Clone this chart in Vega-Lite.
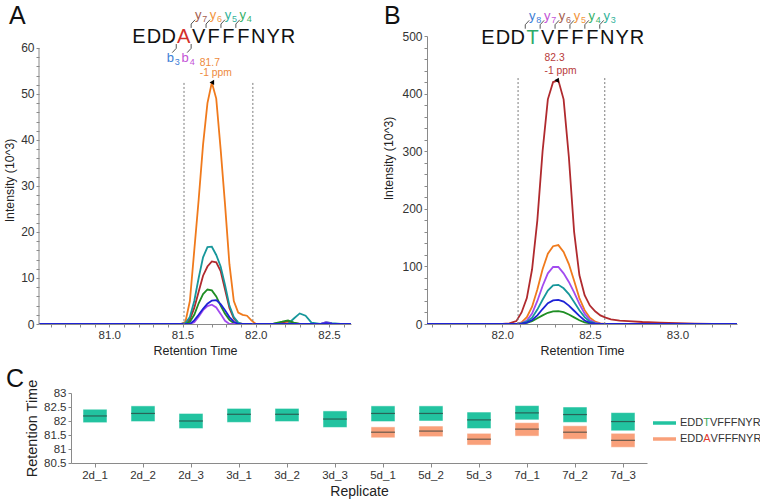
{
 "$schema": "https://vega.github.io/schema/vega-lite/v6.json",
 "padding": {"left": 3, "top": 4, "right": 0, "bottom": 0},
 "config": {
  "view": {"stroke": null},
  "font": "Liberation Sans",
  "axis": {"labelFont": "Liberation Sans", "titleFont": "Liberation Sans", "labelColor": "#333", "titleColor": "#222", "titleFontWeight": "normal", "domainColor": "#8a8a8a", "tickColor": "#8a8a8a", "grid": false, "labelFontSize": 11.5, "tickSize": 3, "labelPadding": 2, "labelOverlap": false},
  "text": {"font": "Liberation Sans"}
 },
 "datasets": {
  "tracesA": [
   {"t":80.52,"y7":0,"y6":0,"y5":0,"y4":0,"b3":0,"b4":0},
   {"t":81.0,"y7":0,"y6":0,"y5":0,"y4":0,"b3":0,"b4":0},
   {"t":81.3,"y7":0,"y6":0,"y5":0,"y4":0,"b3":0,"b4":0},
   {"t":81.49,"y7":0,"y6":0,"y5":0,"y4":0,"b3":0,"b4":0},
   {"t":81.52,"y7":0,"y6":0.5,"y5":0.2,"y4":0,"b3":0,"b4":0},
   {"t":81.55,"y7":1,"y6":5,"y5":1.5,"y4":0.5,"b3":0,"b4":0},
   {"t":81.58,"y7":3.5,"y6":16,"y5":5,"y4":2,"b3":0.8,"b4":0.4},
   {"t":81.61,"y7":7,"y6":27,"y5":10,"y4":4.5,"b3":2,"b4":1.6},
   {"t":81.64,"y7":10.5,"y6":39,"y5":14.5,"y4":6.5,"b3":3.3,"b4":3},
   {"t":81.67,"y7":12.5,"y6":48,"y5":16.7,"y4":7.5,"b3":4.4,"b4":3.9},
   {"t":81.70,"y7":13.6,"y6":52.5,"y5":16.8,"y4":7.3,"b3":5.1,"b4":4.2},
   {"t":81.73,"y7":13.4,"y6":49,"y5":15,"y4":6,"b3":5.2,"b4":3.6},
   {"t":81.76,"y7":11.5,"y6":38,"y5":12.5,"y4":4,"b3":4.3,"b4":2.2},
   {"t":81.79,"y7":7.5,"y6":26,"y5":8.5,"y4":2.2,"b3":3,"b4":0.7},
   {"t":81.82,"y7":3.5,"y6":13,"y5":4,"y4":0.9,"b3":1.5,"b4":0},
   {"t":81.85,"y7":1.2,"y6":5,"y5":1.5,"y4":0.2,"b3":0.5,"b4":0},
   {"t":81.88,"y7":0.2,"y6":2.5,"y5":0.3,"y4":0,"b3":0,"b4":0},
   {"t":81.91,"y7":0,"y6":2,"y5":0,"y4":0,"b3":0,"b4":0},
   {"t":81.94,"y7":0,"y6":1.8,"y5":0,"y4":0,"b3":0,"b4":0},
   {"t":81.97,"y7":0,"y6":0.8,"y5":0,"y4":0,"b3":0,"b4":0},
   {"t":82.0,"y7":0,"y6":0,"y5":0,"y4":0,"b3":0,"b4":0},
   {"t":82.06,"y7":0,"y6":0,"y5":0,"y4":0,"b3":0,"b4":0},
   {"t":82.12,"y7":0,"y6":0,"y5":0,"y4":0.1,"b3":0,"b4":0},
   {"t":82.18,"y7":0.3,"y6":0,"y5":0,"y4":0.5,"b3":0,"b4":0},
   {"t":82.22,"y7":0.6,"y6":0.2,"y5":0,"y4":0.8,"b3":0,"b4":0},
   {"t":82.26,"y7":0.2,"y6":0,"y5":1.2,"y4":0.3,"b3":0,"b4":0},
   {"t":82.30,"y7":0,"y6":0,"y5":2.3,"y4":0,"b3":0,"b4":0},
   {"t":82.34,"y7":0,"y6":0,"y5":1.8,"y4":0,"b3":0,"b4":0},
   {"t":82.38,"y7":0,"y6":0,"y5":0.3,"y4":0,"b3":0,"b4":0},
   {"t":82.44,"y7":0,"y6":0,"y5":0,"y4":0,"b3":0,"b4":0},
   {"t":82.48,"y7":0,"y6":0,"y5":0.4,"y4":0,"b3":0.2,"b4":0.4},
   {"t":82.52,"y7":0,"y6":0,"y5":0.2,"y4":0,"b3":0.1,"b4":0.1},
   {"t":82.58,"y7":0,"y6":0,"y5":0,"y4":0,"b3":0,"b4":0},
   {"t":82.65,"y7":0,"y6":0,"y5":0,"y4":0,"b3":0,"b4":0}
  ],
  "tracesB": [
   {"t":81.57,"y6":0,"y5":0,"y7":0,"y3":0,"y8":0,"y4":0},
   {"t":81.8,"y6":0,"y5":0,"y7":0,"y3":0,"y8":0,"y4":0},
   {"t":82.0,"y6":0,"y5":0,"y7":0,"y3":0,"y8":0,"y4":0},
   {"t":82.04,"y6":1,"y5":0,"y7":0,"y3":0,"y8":0,"y4":0},
   {"t":82.08,"y6":5,"y5":0,"y7":0,"y3":0,"y8":0,"y4":0},
   {"t":82.11,"y6":20,"y5":3,"y7":1.5,"y3":1,"y8":0.5,"y4":0.5},
   {"t":82.14,"y6":45,"y5":12,"y7":6,"y3":4,"y8":2.5,"y4":2},
   {"t":82.17,"y6":95,"y5":30,"y7":18,"y3":11,"y8":7,"y4":5},
   {"t":82.20,"y6":180,"y5":60,"y7":40,"y3":25,"y8":15,"y4":10},
   {"t":82.23,"y6":300,"y5":95,"y7":66,"y3":42,"y8":26,"y4":15},
   {"t":82.26,"y6":390,"y5":122,"y7":88,"y3":58,"y8":36,"y4":19.5},
   {"t":82.29,"y6":420,"y5":135,"y7":99,"y3":67,"y8":41,"y4":22},
   {"t":82.32,"y6":423,"y5":137,"y7":99,"y3":68,"y8":42,"y4":22.5},
   {"t":82.35,"y6":390,"y5":125,"y7":88,"y3":62,"y8":39,"y4":20.5},
   {"t":82.38,"y6":290,"y5":104,"y7":73,"y3":52,"y8":32,"y4":16.5},
   {"t":82.41,"y6":160,"y5":75,"y7":55,"y3":38,"y8":23,"y4":11.5},
   {"t":82.44,"y6":85,"y5":45,"y7":35,"y3":24,"y8":14,"y4":6.5},
   {"t":82.47,"y6":50,"y5":24,"y7":18,"y3":12,"y8":6,"y4":3},
   {"t":82.50,"y6":32,"y5":11,"y7":7,"y3":4,"y8":2,"y4":1},
   {"t":82.53,"y6":22,"y5":4,"y7":2,"y3":1,"y8":0.5,"y4":0.3},
   {"t":82.56,"y6":15,"y5":1,"y7":0.5,"y3":0,"y8":0,"y4":0},
   {"t":82.59,"y6":11,"y5":0,"y7":0,"y3":0,"y8":0,"y4":0},
   {"t":82.62,"y6":8,"y5":0,"y7":0,"y3":0,"y8":0,"y4":0},
   {"t":82.67,"y6":6,"y5":0,"y7":0,"y3":0,"y8":0,"y4":0},
   {"t":82.72,"y6":5,"y5":0,"y7":0,"y3":0,"y8":0,"y4":0},
   {"t":82.80,"y6":3.5,"y5":0,"y7":0,"y3":0,"y8":0,"y4":0},
   {"t":82.90,"y6":2.5,"y5":0,"y7":0,"y3":0,"y8":0,"y4":0},
   {"t":83.0,"y6":1.5,"y5":0,"y7":0,"y3":0,"y8":0,"y4":0},
   {"t":83.1,"y6":0.5,"y5":0,"y7":0,"y3":0,"y8":0,"y4":0},
   {"t":83.2,"y6":0,"y5":0,"y7":0,"y3":0,"y8":0,"y4":0},
   {"t":83.34,"y6":0,"y5":0,"y7":0,"y3":0,"y8":0,"y4":0}
  ],
  "boundsA": [{"t":81.51,"top":52.4},{"t":81.98,"top":52.4}],
  "boundsB": [{"t":82.09,"top":427},{"t":82.585,"top":427}],
  "peakA": [{"t":81.70,"inten":52.5,"rt":"81.7","ppm":"-1 ppm"}],
  "peakB": [{"t":82.31,"inten":423,"rt":"82.3","ppm":"-1 ppm"}],
  "seqA": [
   {"pos":0,"aa":"E","mut":false},{"pos":1,"aa":"D","mut":false},{"pos":2,"aa":"D","mut":false},{"pos":3,"aa":"A","mut":true},
   {"pos":4,"aa":"V","mut":false},{"pos":5,"aa":"F","mut":false},{"pos":6,"aa":"F","mut":false},{"pos":7,"aa":"F","mut":false},
   {"pos":8,"aa":"N","mut":false},{"pos":9,"aa":"Y","mut":false},{"pos":10,"aa":"R","mut":false}
  ],
  "seqB": [
   {"pos":0,"aa":"E","mut":false},{"pos":1,"aa":"D","mut":false},{"pos":2,"aa":"D","mut":false},{"pos":3,"aa":"T","mut":true},
   {"pos":4,"aa":"V","mut":false},{"pos":5,"aa":"F","mut":false},{"pos":6,"aa":"F","mut":false},{"pos":7,"aa":"F","mut":false},
   {"pos":8,"aa":"N","mut":false},{"pos":9,"aa":"Y","mut":false},{"pos":10,"aa":"R","mut":false}
  ],
  "ionsA": [
   {"name":"y7","ion":"y","num":"7","cut":3.5},{"name":"y6","ion":"y","num":"6","cut":4.5},
   {"name":"y5","ion":"y","num":"5","cut":5.5},{"name":"y4","ion":"y","num":"4","cut":6.5},
   {"name":"b3","ion":"b","num":"3","cut":2.5},{"name":"b4","ion":"b","num":"4","cut":3.5}
  ],
  "ionsB": [
   {"name":"y8","ion":"y","num":"8","cut":2.5},{"name":"y7","ion":"y","num":"7","cut":3.5},
   {"name":"y6","ion":"y","num":"6","cut":4.5},{"name":"y5","ion":"y","num":"5","cut":5.5},
   {"name":"y4","ion":"y","num":"4","cut":6.5},{"name":"y3","ion":"y","num":"3","cut":7.5}
  ],
  "boxes": [
   {"rep":"2d_1","pep":"EDDTVFFFNYR","lo":81.94,"hi":82.42,"mid":82.18},
   {"rep":"2d_2","pep":"EDDTVFFFNYR","lo":81.98,"hi":82.54,"mid":82.27},
   {"rep":"2d_3","pep":"EDDTVFFFNYR","lo":81.73,"hi":82.27,"mid":82.0},
   {"rep":"3d_1","pep":"EDDTVFFFNYR","lo":81.95,"hi":82.45,"mid":82.24},
   {"rep":"3d_2","pep":"EDDTVFFFNYR","lo":81.98,"hi":82.45,"mid":82.24},
   {"rep":"3d_3","pep":"EDDTVFFFNYR","lo":81.77,"hi":82.36,"mid":82.07},
   {"rep":"5d_1","pep":"EDDTVFFFNYR","lo":81.98,"hi":82.54,"mid":82.27},
   {"rep":"5d_2","pep":"EDDTVFFFNYR","lo":82.0,"hi":82.54,"mid":82.27},
   {"rep":"5d_3","pep":"EDDTVFFFNYR","lo":81.73,"hi":82.32,"mid":82.04},
   {"rep":"7d_1","pep":"EDDTVFFFNYR","lo":82.04,"hi":82.55,"mid":82.29},
   {"rep":"7d_2","pep":"EDDTVFFFNYR","lo":81.95,"hi":82.5,"mid":82.23},
   {"rep":"7d_3","pep":"EDDTVFFFNYR","lo":81.65,"hi":82.3,"mid":81.98},
   {"rep":"5d_1","pep":"EDDAVFFFNYR","lo":81.4,"hi":81.79,"mid":81.6},
   {"rep":"5d_2","pep":"EDDAVFFFNYR","lo":81.44,"hi":81.82,"mid":81.64},
   {"rep":"5d_3","pep":"EDDAVFFFNYR","lo":81.14,"hi":81.56,"mid":81.35},
   {"rep":"7d_1","pep":"EDDAVFFFNYR","lo":81.46,"hi":81.94,"mid":81.71},
   {"rep":"7d_2","pep":"EDDAVFFFNYR","lo":81.35,"hi":81.83,"mid":81.6},
   {"rep":"7d_3","pep":"EDDAVFFFNYR","lo":81.06,"hi":81.56,"mid":81.31}
  ],
  "legendRows": [
   {"kind":"TV","pre":"EDD","mut":"T","post":"VFFFNYR"},
   {"kind":"AV","pre":"EDD","mut":"A","post":"VFFFNYR"}
  ]
 },
 "spacing": 10,
 "vconcat": [
  {
   "spacing": 31,
   "hconcat": [
    {
     "width": 312, "height": 288,
     "title": {"text": "A", "anchor": "start", "frame": "group", "dx": -30, "dy": 40, "offset": 0, "baseline": "alphabetic", "fontSize": 25, "fontWeight": "normal", "font": "Liberation Sans", "color": "#111"},
     "resolve": {"scale": {"x": "independent", "y": "independent", "color": "independent"}},
     "layer": [
      {
       "layer": [
        {
         "data": {"name": "tracesA"},
         "transform": [{"fold": ["y6", "y7", "y5", "y4", "b4", "b3"], "as": ["ion", "inten"]}],
         "mark": {"type": "line", "strokeWidth": 1.8, "clip": true},
         "encoding": {
          "x": {"field": "t", "type": "quantitative", "scale": {"domain": [80.52, 82.65], "nice": false, "zero": false},
                "axis": {"title": "Retention Time", "titleFontSize": 12.5, "titlePadding": 4, "labelOverlap": false, "tickCount": 100, "values": [80.6,80.7,80.8,80.9,81.0,81.1,81.2,81.3,81.4,81.5,81.6,81.7,81.8,81.9,82.0,82.1,82.2,82.3,82.4,82.5,82.6], "labelExpr": "abs(datum.value*2 - round(datum.value*2)) < 0.01 ? format(datum.value, '.1f') : ''"}},
          "y": {"field": "inten", "type": "quantitative", "scale": {"domain": [0, 62.6], "nice": false},
                "axis": {"title": "Intensity (10^3)", "titleFontSize": 12.3, "titlePadding": 4, "labelFontSize": 12, "labelOverlap": false, "tickCount": 100, "domain": false, "values": [0,2,4,6,8,10,12,14,16,18,20,22,24,26,28,30,32,34,36,38,40,42,44,46,48,50,52,54,56,58,60], "labelExpr": "datum.value % 10 == 0 ? format(datum.value, 'd') : ''"}},
          "color": {"field": "ion", "type": "nominal", "scale": {"domain": ["y7","y6","y5","y4","b3","b4"], "range": ["#B02A2E","#F07A1C","#17979B","#1F8E24","#1E22D6","#A24BEF"]}, "legend": null}
         }
        },
        {
         "data": {"values": [{}]},
         "mark": {"type": "rule", "color": "#8a8a8a", "strokeWidth": 1},
         "encoding": {"x": {"datum": 80.52, "type": "quantitative"}, "y": {"datum": 0, "type": "quantitative"}, "y2": {"datum": 60}}
        },
        {
         "data": {"name": "boundsA"},
         "mark": {"type": "rule", "strokeDash": [2, 2], "color": "#7a7a7a", "strokeWidth": 1},
         "encoding": {"x": {"field": "t", "type": "quantitative"}, "y": {"field": "top", "type": "quantitative"}, "y2": {"datum": 0}}
        },
        {
         "data": {"name": "peakA"},
         "mark": {"type": "text", "align": "left", "baseline": "middle", "dx": -12, "dy": -19.7, "fontSize": 10.3, "color": "#EE8A3C"},
         "encoding": {"x": {"field": "t", "type": "quantitative"}, "y": {"field": "inten", "type": "quantitative"}, "text": {"field": "rt"}}
        },
        {
         "data": {"name": "peakA"},
         "mark": {"type": "text", "align": "left", "baseline": "middle", "dx": -12, "dy": -9.7, "fontSize": 10.3, "color": "#EE8A3C"},
         "encoding": {"x": {"field": "t", "type": "quantitative"}, "y": {"field": "inten", "type": "quantitative"}, "text": {"field": "ppm"}}
        },
        {
         "data": {"name": "peakA"},
         "mark": {"type": "point", "shape": "triangle-left", "filled": true, "color": "#000", "opacity": 1, "size": 28},
         "encoding": {"x": {"field": "t", "type": "quantitative"}, "y": {"field": "inten", "type": "quantitative"}}
        }
       ]
      },
      {
       "layer": [
        {
         "data": {"name": "seqA"},
         "mark": {"type": "text", "fontSize": 20, "align": "center", "baseline": "middle"},
         "encoding": {
          "x": {"field": "pos", "type": "quantitative", "scale": {"domain": [0, 10], "range": [100, 249], "nice": false, "zero": false}, "axis": null},
          "y": {"datum": 0, "type": "quantitative", "scale": {"domain": [-1, 1], "range": [22, -21], "nice": false, "zero": false}, "axis": null},
          "text": {"field": "aa"},
          "color": {"condition": {"test": "datum.mut", "value": "#D32F2B"}, "value": "#111"}
         }
        },
        {
         "data": {"name": "ionsA"}, "transform": [{"filter": "datum.ion == 'y'"}],
         "mark": {"type": "rule", "color": "#555", "strokeWidth": 1},
         "encoding": {"x": {"field": "cut", "type": "quantitative", "axis": null}, "x2": {"field": "cut"}, "y": {"datum": 0.40, "type": "quantitative", "axis": null}, "y2": {"datum": 0.58}}
        },
        {
         "data": {"name": "ionsA"}, "transform": [{"filter": "datum.ion == 'y'"}],
         "mark": {"type": "rule", "color": "#555", "strokeWidth": 1, "x2Offset": 4},
         "encoding": {"x": {"field": "cut", "type": "quantitative", "axis": null}, "x2": {"field": "cut"}, "y": {"datum": 0.58, "type": "quantitative", "axis": null}, "y2": {"datum": 0.78}}
        },
        {
         "data": {"name": "ionsA"}, "transform": [{"filter": "datum.ion == 'b'"}],
         "mark": {"type": "rule", "color": "#555", "strokeWidth": 1},
         "encoding": {"x": {"field": "cut", "type": "quantitative", "axis": null}, "x2": {"field": "cut"}, "y": {"datum": -0.35, "type": "quantitative", "axis": null}, "y2": {"datum": -0.55}}
        },
        {
         "data": {"name": "ionsA"}, "transform": [{"filter": "datum.ion == 'b'"}],
         "mark": {"type": "rule", "color": "#555", "strokeWidth": 1, "x2Offset": -4},
         "encoding": {"x": {"field": "cut", "type": "quantitative", "axis": null}, "x2": {"field": "cut"}, "y": {"datum": -0.55, "type": "quantitative", "axis": null}, "y2": {"datum": -0.75}}
        },
        {
         "data": {"name": "ionsA"}, "transform": [{"filter": "datum.ion == 'y'"}],
         "mark": {"type": "text", "fontSize": 13, "align": "center", "baseline": "middle", "dx": 7},
         "encoding": {"x": {"field": "cut", "type": "quantitative", "axis": null}, "y": {"datum": 1, "type": "quantitative", "axis": null}, "text": {"field": "ion"},
                      "color": {"field": "name", "type": "nominal", "scale": {"domain": ["y7","y6","y5","y4","b3","b4"], "range": ["#A5604F","#F29640","#33B39B","#36B167","#3D7ED6","#C353D6"]}, "legend": null}}
        },
        {
         "data": {"name": "ionsA"}, "transform": [{"filter": "datum.ion == 'y'"}],
         "mark": {"type": "text", "fontSize": 9, "align": "left", "baseline": "middle", "dx": 11, "dy": 4},
         "encoding": {"x": {"field": "cut", "type": "quantitative", "axis": null}, "y": {"datum": 1, "type": "quantitative", "axis": null}, "text": {"field": "num"},
                      "color": {"field": "name", "type": "nominal", "legend": null}}
        },
        {
         "data": {"name": "ionsA"}, "transform": [{"filter": "datum.ion == 'b'"}],
         "mark": {"type": "text", "fontSize": 13, "align": "center", "baseline": "middle", "dx": -6},
         "encoding": {"x": {"field": "cut", "type": "quantitative", "axis": null}, "y": {"datum": -1, "type": "quantitative", "axis": null}, "text": {"field": "ion"},
                      "color": {"field": "name", "type": "nominal", "legend": null}}
        },
        {
         "data": {"name": "ionsA"}, "transform": [{"filter": "datum.ion == 'b'"}],
         "mark": {"type": "text", "fontSize": 9, "align": "left", "baseline": "middle", "dx": -1.5, "dy": 4},
         "encoding": {"x": {"field": "cut", "type": "quantitative", "axis": null}, "y": {"datum": -1, "type": "quantitative", "axis": null}, "text": {"field": "num"},
                      "color": {"field": "name", "type": "nominal", "legend": null}}
        }
       ]
      }
     ]
    },
    {
     "width": 310, "height": 288,
     "title": {"text": "B", "anchor": "start", "frame": "group", "dx": -43, "dy": 39.5, "offset": 0, "baseline": "alphabetic", "fontSize": 25, "fontWeight": "normal", "font": "Liberation Sans", "color": "#111"},
     "resolve": {"scale": {"x": "independent", "y": "independent", "color": "independent"}},
     "layer": [
      {
       "layer": [
        {
         "data": {"name": "tracesB"},
         "transform": [{"fold": ["y6", "y5", "y7", "y3", "y4", "y8"], "as": ["ion", "inten"]}],
         "mark": {"type": "line", "strokeWidth": 1.8, "clip": true},
         "encoding": {
          "x": {"field": "t", "type": "quantitative", "scale": {"domain": [81.57, 83.34], "nice": false, "zero": false},
                "axis": {"title": "Retention Time", "titleFontSize": 12.5, "titlePadding": 4, "labelOverlap": false, "tickCount": 100, "values": [81.6,81.7,81.8,81.9,82.0,82.1,82.2,82.3,82.4,82.5,82.6,82.7,82.8,82.9,83.0,83.1,83.2,83.3], "labelExpr": "abs(datum.value*2 - round(datum.value*2)) < 0.01 ? format(datum.value, '.1f') : ''"}},
          "y": {"field": "inten", "type": "quantitative", "scale": {"domain": [0, 500], "nice": false},
                "axis": {"title": "Intensity (10^3)", "titleFontSize": 12.3, "titlePadding": 6.6, "titleY": 122, "labelFontSize": 12, "labelOverlap": false, "tickCount": 100, "values": [0,20,40,60,80,100,120,140,160,180,200,220,240,260,280,300,320,340,360,380,400,420,440,460,480,500], "labelExpr": "datum.value % 100 == 0 ? format(datum.value, 'd') : ''"}},
          "color": {"field": "ion", "type": "nominal", "scale": {"domain": ["y8","y7","y6","y5","y4","y3"], "range": ["#1E22D6","#A24BEF","#B02A2E","#F07A1C","#1F8E24","#17979B"]}, "legend": null}
         }
        },
        {
         "data": {"name": "boundsB"},
         "mark": {"type": "rule", "strokeDash": [2, 2], "color": "#7a7a7a", "strokeWidth": 1},
         "encoding": {"x": {"field": "t", "type": "quantitative"}, "y": {"field": "top", "type": "quantitative"}, "y2": {"datum": 0}}
        },
        {
         "data": {"name": "peakB"},
         "mark": {"type": "text", "align": "left", "baseline": "middle", "dx": -12, "dy": -22, "fontSize": 10.3, "color": "#B83A3A"},
         "encoding": {"x": {"field": "t", "type": "quantitative"}, "y": {"field": "inten", "type": "quantitative"}, "text": {"field": "rt"}}
        },
        {
         "data": {"name": "peakB"},
         "mark": {"type": "text", "align": "left", "baseline": "middle", "dx": -12, "dy": -9.5, "fontSize": 10.3, "color": "#B83A3A"},
         "encoding": {"x": {"field": "t", "type": "quantitative"}, "y": {"field": "inten", "type": "quantitative"}, "text": {"field": "ppm"}}
        },
        {
         "data": {"name": "peakB"},
         "mark": {"type": "point", "shape": "triangle-left", "filled": true, "color": "#000", "opacity": 1, "size": 28},
         "encoding": {"x": {"field": "t", "type": "quantitative"}, "y": {"field": "inten", "type": "quantitative"}}
        }
       ]
      },
      {
       "layer": [
        {
         "data": {"name": "seqB"},
         "mark": {"type": "text", "fontSize": 20, "align": "center", "baseline": "middle"},
         "encoding": {
          "x": {"field": "pos", "type": "quantitative", "scale": {"domain": [0, 10], "range": [61, 210], "nice": false, "zero": false}, "axis": null},
          "y": {"datum": 0, "type": "quantitative", "scale": {"domain": [-1, 1], "range": [23.5, -20.5], "nice": false, "zero": false}, "axis": null},
          "text": {"field": "aa"},
          "color": {"condition": {"test": "datum.mut", "value": "#2DAA6A"}, "value": "#111"}
         }
        },
        {
         "data": {"name": "ionsB"},
         "mark": {"type": "rule", "color": "#555", "strokeWidth": 1},
         "encoding": {"x": {"field": "cut", "type": "quantitative", "axis": null}, "x2": {"field": "cut"}, "y": {"datum": 0.40, "type": "quantitative", "axis": null}, "y2": {"datum": 0.58}}
        },
        {
         "data": {"name": "ionsB"},
         "mark": {"type": "rule", "color": "#555", "strokeWidth": 1, "x2Offset": 4},
         "encoding": {"x": {"field": "cut", "type": "quantitative", "axis": null}, "x2": {"field": "cut"}, "y": {"datum": 0.58, "type": "quantitative", "axis": null}, "y2": {"datum": 0.78}}
        },
        {
         "data": {"name": "ionsB"},
         "mark": {"type": "text", "fontSize": 13, "align": "center", "baseline": "middle", "dx": 7},
         "encoding": {"x": {"field": "cut", "type": "quantitative", "axis": null}, "y": {"datum": 1, "type": "quantitative", "axis": null}, "text": {"field": "ion"},
                      "color": {"field": "name", "type": "nominal", "scale": {"domain": ["y8","y7","y6","y5","y4","y3"], "range": ["#3D7ED6","#C353D6","#A5604F","#F29640","#36B167","#33B39B"]}, "legend": null}}
        },
        {
         "data": {"name": "ionsB"},
         "mark": {"type": "text", "fontSize": 9, "align": "left", "baseline": "middle", "dx": 11, "dy": 4},
         "encoding": {"x": {"field": "cut", "type": "quantitative", "axis": null}, "y": {"datum": 1, "type": "quantitative", "axis": null}, "text": {"field": "num"},
                      "color": {"field": "name", "type": "nominal", "legend": null}}
        }
       ]
      }
     ]
    }
   ]
  },
  {
   "spacing": 4,
   "hconcat": [
    {
     "width": 608, "height": 70,
     "title": {"text": "C", "anchor": "start", "frame": "group", "dx": -33, "dy": 33, "offset": 0, "baseline": "alphabetic", "fontSize": 25, "fontWeight": "normal", "font": "Liberation Sans", "color": "#111"},
     "data": {"name": "boxes"},
     "layer": [
      {
       "mark": {"type": "bar", "stroke": "#ffffff", "strokeOpacity": 0.5, "strokeWidth": 1},
       "encoding": {
        "x": {"field": "rep", "type": "nominal", "scale": {"domain": ["2d_1","2d_2","2d_3","3d_1","3d_2","3d_3","5d_1","5d_2","5d_3","7d_1","7d_2","7d_3"], "range": [32, 608], "paddingInner": 0.5, "paddingOuter": 0.25},
              "axis": {"title": "Replicate", "titleFontSize": 14, "titlePadding": 4, "labelAngle": 0, "labelFontSize": 11.5, "tickSize": 4, "labelOverlap": false}},
        "y": {"field": "lo", "type": "quantitative", "scale": {"domain": [80.5, 83], "nice": false, "zero": false},
              "axis": {"title": "Retention Time", "titleFontSize": 14.5, "titlePadding": 4, "offset": -32, "labelOverlap": false, "tickCount": 100, "values": [80.5, 81, 81.5, 82, 82.5, 83], "format": ".1~f", "labelFontSize": 11.5}},
        "y2": {"field": "hi"},
        "color": {"field": "pep", "type": "nominal", "scale": {"domain": ["EDDTVFFFNYR", "EDDAVFFFNYR"], "range": ["#22C3A0", "#F9A07A"]}, "legend": null}
       }
      },
      {
       "mark": {"type": "tick", "color": "#2b3b38", "thickness": 1.2, "size": 24},
       "encoding": {"x": {"field": "rep", "type": "nominal"}, "y": {"field": "mid", "type": "quantitative"}}
      }
     ]
    },
    {
     "width": 100, "height": 70,
     "data": {"name": "legendRows"},
     "layer": [
      {
       "mark": {"type": "rule", "strokeWidth": 3.5},
       "encoding": {
        "y": {"field": "kind", "type": "nominal", "scale": {"type": "point", "domain": ["TV", "AV"], "range": [30, 46], "padding": 0}, "axis": null},
        "x": {"datum": 0, "type": "quantitative", "scale": {"domain": [0, 1], "range": [0, 23]}, "axis": null},
        "x2": {"datum": 1},
        "color": {"field": "kind", "type": "nominal", "scale": {"domain": ["TV", "AV"], "range": ["#22C3A0", "#F9A07A"]}, "legend": null}
       }
      },
      {
       "mark": {"type": "text", "align": "left", "baseline": "middle", "dx": 4, "fontSize": 11, "color": "#333"},
       "encoding": {"y": {"field": "kind", "type": "nominal", "axis": null}, "x": {"datum": 1, "type": "quantitative", "axis": null}, "text": {"field": "pre"}}
      },
      {
       "mark": {"type": "text", "align": "left", "baseline": "middle", "dx": 27.2, "fontSize": 11},
       "encoding": {"y": {"field": "kind", "type": "nominal", "axis": null}, "x": {"datum": 1, "type": "quantitative", "axis": null}, "text": {"field": "mut"},
                    "color": {"condition": {"test": "datum.kind == 'TV'", "value": "#3DAA5C"}, "value": "#E03C31"}}
      },
      {
       "transform": [{"filter": "datum.kind == 'TV'"}],
       "mark": {"type": "text", "align": "left", "baseline": "middle", "dx": 33.9, "fontSize": 11, "color": "#333"},
       "encoding": {"y": {"field": "kind", "type": "nominal", "axis": null}, "x": {"datum": 1, "type": "quantitative", "axis": null}, "text": {"field": "post"}}
      },
      {
       "transform": [{"filter": "datum.kind == 'AV'"}],
       "mark": {"type": "text", "align": "left", "baseline": "middle", "dx": 34.6, "fontSize": 11, "color": "#333"},
       "encoding": {"y": {"field": "kind", "type": "nominal", "axis": null}, "x": {"datum": 1, "type": "quantitative", "axis": null}, "text": {"field": "post"}}
      }
     ]
    }
   ]
  }
 ]
}
